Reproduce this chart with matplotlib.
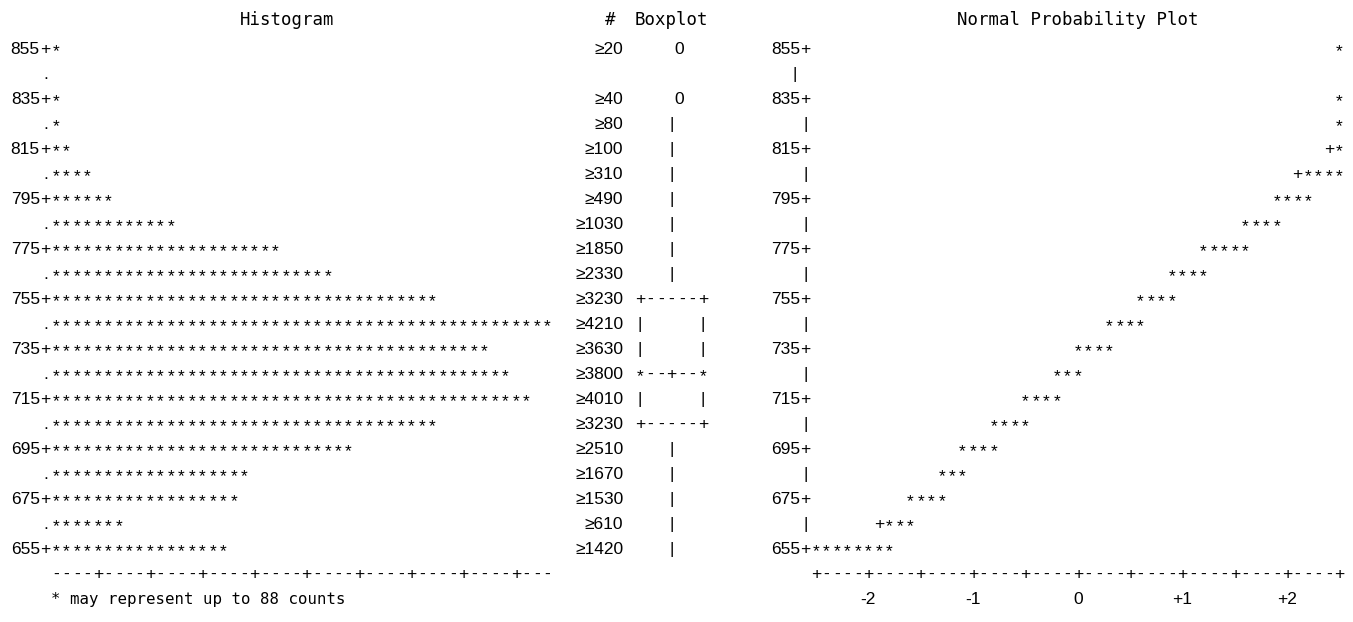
import math
import matplotlib.pyplot as plt

# histogram bins (midpoints, top to bottom) and their frequencies
bins = [855, 845, 835, 825, 815, 805, 795, 785, 775, 765, 755,
        745, 735, 725, 715, 705, 695, 685, 675, 665, 655]
counts = [20, None, 40, 80, 100, 310, 490, 1030, 1850, 2330, 3230,
          4210, 3630, 3800, 4010, 3230, 2510, 1670, 1530, 610, 1420]
per_star = 88
axis_labels = [855, 835, 815, 795, 775, 755, 735, 715, 695, 675, 655]

# boxplot rows
outliers = [855, 835]
whisker_top, whisker_bottom = 825, 655
box_top, box_bottom, median = 755, 705, 725

# normal probability plot: first column and number of '*' per row, plus
# the reference-line '+' that still shows through
npp_first = [50, None, 50, 50, 50, 47, 44, 41, 37, 34, 31,
             28, 25, 23, 20, 17, 14, 12, 9, 7, 0]
npp_len = [1, 0, 1, 1, 1, 4, 4, 4, 5, 4, 4,
           4, 4, 3, 4, 4, 4, 3, 4, 3, 8]
npp_ref = {815: 49, 805: 46, 665: 6}
z_ticks = [-2, -1, 0, 1, 2]

W, H, DPI = 1353, 622, 100
MONO = 'DejaVu Sans Mono'
SANS = 'Liberation Sans'
FS = 12.5
STAR_DROP = 0.8


def make_axes(fig, x0, unit):
    # full-figure axes whose x unit is one text column (or one z step)
    ax = fig.add_axes([0, 0, 1, 1])
    ax.set_xlim(-x0 / unit, (W - x0) / unit)
    ax.set_ylim(855 - (H - 54) / 2.5, 855 + 54 / 2.5)
    ax.axis('off')
    ax.patch.set_alpha(0)
    return ax


def mono(ax, x, y, s, ha='left', size=FS):
    ax.text(x, y, s, family=MONO, fontsize=size, ha=ha, va='baseline')


def sans(ax, x, y, s, ha='right'):
    ax.text(x, y, s, family=SANS, fontsize=FS, ha=ha, va='baseline')


def cells(ax, x, y, s, step=1.0):
    # one glyph per fixed-width cell, centred in the cell
    for i, ch in enumerate(s):
        if ch == ' ':
            continue
        yy = y - STAR_DROP if ch == '*' else y
        ax.text(x + i * step, yy, ch, family=SANS, fontsize=FS,
                ha='center', va='baseline')


fig = plt.figure(figsize=(W / DPI, H / DPI), dpi=DPI)
fig.patch.set_facecolor('white')

# ---- histogram ----
hx = make_axes(fig, 45.5, 10.45)
mono(hx, 23.1, 866.8, 'Histogram', ha='center')
for b, c in zip(bins, counts):
    n = math.ceil(c / per_star) if c else 0
    if b in axis_labels:
        sans(hx, -0.55, b, str(b))
        cells(hx, 0, b, '+' + '*' * n)
    else:
        cells(hx, 0, b, '.' + '*' * n)
tick_row = ''.join('+' if k % 5 == 0 else '-' for k in range(1, 49))
cells(hx, 1, 645, tick_row)
mono(hx, 0.5, 635, '* may represent up to %d counts' % per_star, size=11.3)

# ---- counts and boxplot ----
bx = make_axes(fig, 640, 10.5)
mono(bx, -2.86, 866.8, '#', ha='center')
mono(bx, -0.5, 866.8, 'Boxplot')
for b, c in zip(bins, counts):
    if c:
        sans(bx, -1.6, b, '\u2265%d' % c)
    if b in outliers:
        sans(bx, 3.7, b, '0', ha='center')
    elif b in (box_top, box_bottom):
        cells(bx, 0, b, '+-----+')
    elif b == median:
        cells(bx, 0, b, '*--+--*')
    elif box_bottom < b < box_top:
        cells(bx, 0, b, '|     |')
    elif whisker_bottom <= b <= whisker_top:
        cells(bx, 3, b, '|')

# ---- normal probability plot ----
nx = make_axes(fig, 1077.75, 104.7)


def col_z(c):
    # centre of text column c on the z scale
    return (c - 25) / 10


mono(nx, 0, 866.8, 'Normal Probability Plot', ha='center')
for b, first, n in zip(bins, npp_first, npp_len):
    if b in axis_labels:
        sans(nx, col_z(-1.5), b, str(b))
        cells(nx, col_z(-1), b, '+', 0.1)
    else:
        cells(nx, col_z(-2 if b == 845 else -1), b, '|', 0.1)
    if b in npp_ref:
        cells(nx, col_z(npp_ref[b]), b, '+', 0.1)
    if n:
        cells(nx, col_z(first), b, '*' * n, 0.1)
npp_axis = ''.join('+' if k % 5 == 0 else '-' for k in range(51))
cells(nx, col_z(0), 645, npp_axis, 0.1)
for z in z_ticks:
    sans(nx, z, 635, ('%+d' % z) if z else '0', ha='center')

fig.savefig('out.png', dpi=DPI, facecolor='white')
